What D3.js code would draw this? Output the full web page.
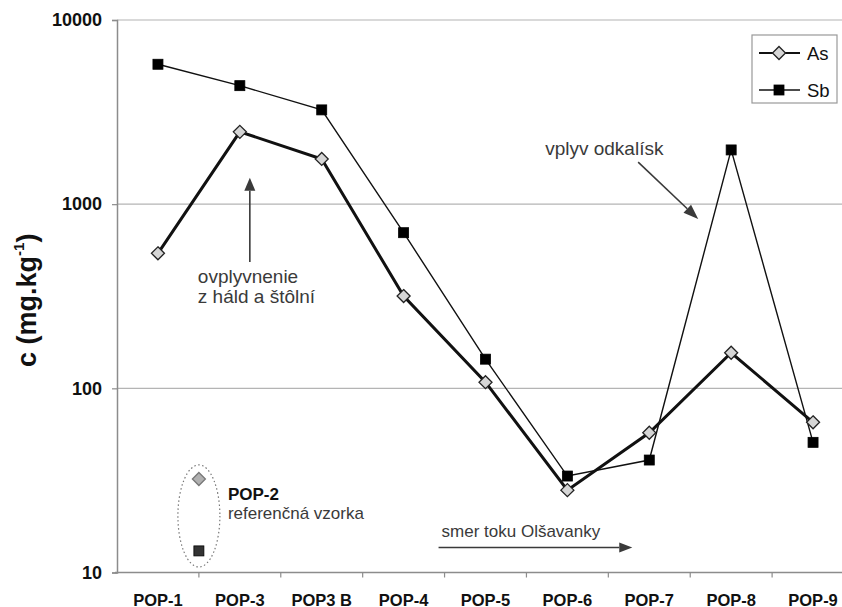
<!DOCTYPE html>
<html>
<head>
<meta charset="utf-8">
<script src="https://cdn.jsdelivr.net/npm/d3@7/dist/d3.min.js"></script>
<style>
  html, body { margin: 0; padding: 0; background: #fff; }
  svg { display: block; font-family: "Liberation Sans", Arial, sans-serif; }
</style>
</head>
<body>
<svg id="chart" width="842" height="607"></svg>
<script>
// Sampling sites along the stream
const sites = ["POP-1", "POP-3", "POP3 B", "POP-4", "POP-5", "POP-6", "POP-7", "POP-8", "POP-9"];
// Concentrations in mg/kg
const asValues = [541, 2470, 1760, 317, 108, 28, 57.4, 156, 65.4];
const sbValues = [5750, 4400, 3250, 700, 144, 33.4, 40.8, 1970, 50.9];
// Reference sample POP-2 (shown separately)
const refAs = 32.2;
const refSb = 13.1;
const yTicks = [10, 100, 1000, 10000];

const svg = d3.select("#chart");
const plotLeft = 117, plotRight = 854, plotTop = 20, plotBottom = 572.5;

const x = d3.scaleBand().domain(sites).range([plotLeft, plotRight]).padding(0);
const y = d3.scaleLog().domain([10, 10000]).range([plotBottom, plotTop]);
const cx = s => x(s) + x.bandwidth() / 2;

const ink = "#111";
const grid = "#b4b4b4";
const axisCol = "#8c8c8c";
const noteCol = "#3a3a3a";

// Horizontal gridlines
svg.append("g").selectAll("line").data(yTicks.slice(1)).join("line")
  .attr("x1", plotLeft).attr("x2", plotRight)
  .attr("y1", d => y(d)).attr("y2", d => y(d))
  .attr("stroke", grid).attr("stroke-width", 1.2);

// Y axis
const yAxis = svg.append("g").attr("transform", `translate(${plotLeft},0)`)
  .call(d3.axisLeft(y).tickValues(yTicks).tickFormat(d3.format("d")).tickSize(5).tickPadding(10));
yAxis.select(".domain").attr("stroke", axisCol).attr("stroke-width", 1.5);
yAxis.selectAll(".tick line").attr("stroke", axisCol).attr("stroke-width", 1.2);
yAxis.selectAll(".tick text").attr("font-size", 18).attr("font-weight", "bold")
  .attr("fill", ink).attr("font-family", "Liberation Sans, Arial, sans-serif");

// X axis: labels at site centres, ticks at band edges
const xAxis = svg.append("g").attr("transform", `translate(0,${plotBottom})`);
xAxis.append("line").attr("x1", plotLeft - 2).attr("x2", plotRight)
  .attr("stroke", axisCol).attr("stroke-width", 1.5);
xAxis.selectAll("line.tk").data(sites.slice(1)).join("line").attr("class", "tk")
  .attr("x1", d => x(d)).attr("x2", d => x(d)).attr("y1", 0).attr("y2", 5)
  .attr("stroke", axisCol).attr("stroke-width", 1.2);
xAxis.selectAll("text").data(sites).join("text")
  .attr("x", d => cx(d)).attr("y", 33)
  .attr("text-anchor", "middle").attr("font-size", 16.5).attr("font-weight", "bold")
  .attr("fill", ink).text(d => d);

// Y axis title
const yTitle = svg.append("text")
  .attr("transform", `translate(36,${(plotTop + plotBottom) / 2 + 4}) rotate(-90)`)
  .attr("text-anchor", "middle").attr("font-size", 27).attr("font-weight", "bold").attr("fill", ink);
yTitle.append("tspan").text("c (mg.kg");
yTitle.append("tspan").attr("font-size", 15).attr("dy", -12).text("-1");
yTitle.append("tspan").attr("dy", 12).text(")");

// Marker helpers
const diamond = (g, px, py, fill, stroke) => g.append("path")
  .attr("d", `M${px},${py - 6.5}L${px + 6.5},${py}L${px},${py + 6.5}L${px - 6.5},${py}Z`)
  .attr("fill", fill).attr("stroke", stroke).attr("stroke-width", 1.3);
const square = (g, px, py, fill) => g.append("rect")
  .attr("x", px - 5).attr("y", py - 5).attr("width", 10).attr("height", 10)
  .attr("fill", fill).attr("stroke", "#000").attr("stroke-width", 0.8);

const line = d3.line().x((d, i) => cx(sites[i])).y(d => y(d));

// Sb series (thin line, black squares)
svg.append("path").datum(sbValues).attr("d", line)
  .attr("fill", "none").attr("stroke", ink).attr("stroke-width", 1.4);
// As series (thick line, grey diamonds)
svg.append("path").datum(asValues).attr("d", line)
  .attr("fill", "none").attr("stroke", ink).attr("stroke-width", 3);

const marks = svg.append("g");
sbValues.forEach((v, i) => square(marks, cx(sites[i]), y(v), "#000"));
asValues.forEach((v, i) => diamond(marks, cx(sites[i]), y(v), "#d6d6d6", "#222"));

// Reference sample POP-2, placed between POP-1 and POP-3
const refX = x("POP-3");
svg.append("ellipse")
  .attr("cx", refX).attr("cy", (y(refAs) + y(refSb)) / 2 + 1)
  .attr("rx", 21).attr("ry", 51)
  .attr("fill", "none").attr("stroke", "#777").attr("stroke-width", 1.2)
  .attr("stroke-dasharray", "1.5,2.5");
diamond(svg, refX, y(refAs), "#b0b0b0", "#777");
square(svg, refX, y(refSb), "#333");
svg.append("text").attr("x", refX + 29).attr("y", y(refAs) + 21)
  .attr("font-size", 17).attr("font-weight", "bold").attr("fill", ink).text("POP-2");
svg.append("text").attr("x", refX + 29).attr("y", y(refAs) + 40)
  .attr("font-size", 17).attr("fill", noteCol).text("referenčná vzorka");

// Arrow helper
function arrow(x1, y1, x2, y2, head, width, sw) {
  const a = Math.atan2(y2 - y1, x2 - x1);
  const bx = x2 - head * Math.cos(a), by = y2 - head * Math.sin(a);
  svg.append("line").attr("x1", x1).attr("y1", y1).attr("x2", bx).attr("y2", by)
    .attr("stroke", noteCol).attr("stroke-width", sw);
  const nx = -Math.sin(a) * width / 2, ny = Math.cos(a) * width / 2;
  svg.append("path")
    .attr("d", `M${x2},${y2}L${bx + nx},${by + ny}L${bx - nx},${by - ny}Z`)
    .attr("fill", noteCol);
}

// Influence of heaps and adits
const ax = cx("POP-3") + 10;
arrow(ax, y(485), ax, y(1390), 13, 11, 1.6);
svg.append("text").attr("x", ax - 52).attr("y", y(485) + 21)
  .attr("font-size", 19).attr("fill", noteCol).text("ovplyvnenie");
svg.append("text").attr("x", ax - 52).attr("y", y(485) + 41)
  .attr("font-size", 19).attr("fill", noteCol).text("z háld a štôlní");

// Influence of tailing ponds
const tx = cx("POP-8");
arrow(tx - 93, y(1800) + 5, tx - 33, y(830), 15, 11, 1.6);
svg.append("text").attr("x", tx - 186).attr("y", y(1800) - 2)
  .attr("font-size", 19).attr("fill", noteCol).text("vplyv odkalísk");

// Flow direction
const fy = plotBottom - 25;
arrow(x("POP-5") - 6, fy, cx("POP-7") - 17, fy, 13, 10, 1.6);
svg.append("text").attr("x", x("POP-5") - 3).attr("y", fy - 11)
  .attr("font-size", 17).attr("fill", noteCol).text("smer toku Olšavanky");

// Legend
const lg = svg.append("g").attr("transform", "translate(752,35)");
lg.append("rect").attr("width", 85).attr("height", 68)
  .attr("fill", "#fff").attr("stroke", "#999").attr("stroke-width", 1.2);
[["As", 18], ["Sb", 55]].forEach(([name, ly]) => {
  lg.append("line").attr("x1", 7).attr("x2", 48).attr("y1", ly).attr("y2", ly)
    .attr("stroke", ink).attr("stroke-width", name === "As" ? 1.8 : 1.4);
  if (name === "As") diamond(lg, 27, ly, "#d6d6d6", "#222");
  else square(lg, 27, ly, "#000");
  lg.append("text").attr("x", 55).attr("y", ly + 6.5)
    .attr("font-size", 18.5).attr("fill", ink).text(name);
});
</script>
</body>
</html>
